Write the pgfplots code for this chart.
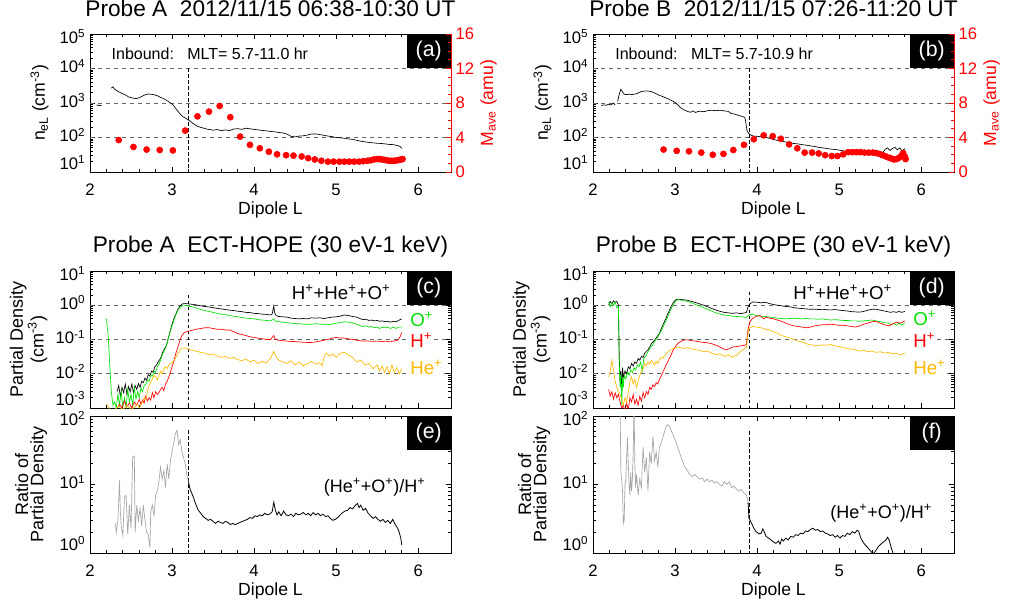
\documentclass[border=0pt]{standalone}
\usepackage{pgfplots}
\pgfplotsset{compat=1.18}
\usepackage{fontspec}
\setmainfont{Liberation Sans}
\definecolor{grn}{RGB}{0,225,0}
\definecolor{org}{RGB}{255,185,0}
\definecolor{gry}{RGB}{165,165,165}
\newcommand{\loglab}[3]{\pgfmathtruncatemacro{\ex}{round(#1/ln(10))}%
  \ifnum\ex=#2\relax\raisebox{7pt}[\height][\depth]{10\textsuperscript{\ex}}%
  \else\ifnum\ex=#3\relax\raisebox{-2pt}[\height][\depth]{10\textsuperscript{\ex}}%
  \else\raisebox{1.8pt}[\height][\depth]{10\textsuperscript{\ex}}\fi\fi}
\pgfplotsset{
 /pgfplots/mybase/.style={
   scale only axis, width=270.75pt, height=102.75pt,
   xmin=2, xmax=6.4, xtick={2,3,4,5,6}, minor x tick num=4,
   tick align=inside, major tick length=4pt, minor tick length=2.2pt,
   axis line style={line width=0.7pt},
   tick style={line width=0.6pt, black},
   tick label style={font=\fontsize{12.5}{14}\selectfont},
   label style={font=\fontsize{13.2}{15}\selectfont},
   title style={at={(0.5,1)}, anchor=base, font=\fontsize{17}{20}\selectfont},
   /pgf/number format/assume math mode=true,
 },
 /pgfplots/myxlab/.style={xlabel={Dipole L}, xlabel style={at={(axis description cs:0.5,0)}, anchor=base, yshift=-32pt}, xticklabel style={anchor=base, yshift=-17.5pt}},
 /pgfplots/mynox/.style={xticklabels={}},
 /pgfplots/myred/.style={mybase, ymin=0, ymax=16, ytick={0,4,8,12,16}, minor y tick num=3,
   axis y line*=right, axis x line=none, axis line style={red}, tick style={red},
   yticklabel style={red}, ylabel={M\textsubscript{ave} (amu)},
   ylabel style={red, at={(axis description cs:1.117,0.5)}, anchor=base}},
}
\tikzset{
 hgrid/.style={black!60, line width=0.6pt, dash pattern=on 3pt off 3pt},
 vline/.style={black, line width=0.5pt, dash pattern=on 2.5pt off 2pt},
 lab/.style={fill=black, text=white, anchor=north east, minimum width=33pt, minimum height=25.5pt, inner sep=0pt, font=\fontsize{16}{18}\selectfont},
 ion/.style={anchor=west, fill=white, inner sep=1pt, font=\fontsize{14}{16}\selectfont},
}
\begin{document}
\begin{tikzpicture}
\path[use as bounding box] (0,0) rectangle (757.5pt,450pt);

%================ (a) ================
\begin{axis}[mybase, ymode=log, yticklabel={\loglab{\tick}{1}{5}}, at={(67.5pt,321pt)}, height=103.5pt, ymin=10, ymax=1e5, ytickten={1,2,3,4,5}, ytick pos=left, myxlab,
  ylabel={n\textsubscript{eL} (cm\textsuperscript{-3})}, ylabel style={at={(axis description cs:-0.125,0.5)}, anchor=base},
  title={Probe A\ \ 2012/11/15 06:38-10:30 UT}, title style={yshift=7pt}]
\draw[hgrid] (axis cs:2,100) -- (axis cs:6.4,100);
\draw[hgrid] (axis cs:2,1000) -- (axis cs:6.4,1000);
\draw[hgrid] (axis cs:2,10000) -- (axis cs:6.4,10000);
\draw[vline] (axis cs:3.2,10000) -- (axis cs:3.2,10);
\addplot[black, line width=0.5pt] coordinates {(2.08,850)(2.10,870)(2.12,840)(2.14,860)};
\addplot[black, line width=0.5pt] coordinates {
(2.26,2700)(2.28,2950)(2.30,2500)(2.32,2350)(2.35,2100)(2.38,1950)(2.41,1800)(2.44,1680)(2.47,1500)(2.50,1430)
(2.53,1380)(2.56,1340)(2.59,1400)(2.62,1500)(2.65,1640)(2.68,1760)(2.71,1830)(2.74,1790)(2.77,1760)(2.80,1680)
(2.83,1590)(2.86,1450)(2.89,1360)(2.92,1250)(2.95,1120)(2.98,1000)(3.01,900)(3.04,720)(3.07,580)(3.10,480)
(3.13,400)(3.16,370)(3.19,330)(3.22,300)(3.25,260)(3.28,235)(3.31,210)(3.34,200)(3.38,188)(3.42,176)
(3.46,170)(3.50,163)(3.55,170)(3.60,158)(3.65,166)(3.70,158)(3.75,176)(3.80,180)(3.85,172)(3.90,186)
(3.95,178)(4.00,172)(4.05,166)(4.10,160)(4.15,156)(4.20,150)(4.25,146)(4.30,140)(4.35,136)(4.40,126)
(4.45,108)(4.50,104)(4.55,110)(4.60,112)(4.65,118)(4.70,126)(4.75,127)(4.80,122)(4.85,116)(4.90,110)
(4.95,106)(5.00,100)(5.05,98)(5.10,95)(5.15,91)(5.20,88)(5.25,83)(5.30,78)(5.35,75)(5.40,72)
(5.45,70)(5.50,68)(5.55,67)(5.60,65)(5.65,63)(5.70,62)(5.75,58)(5.78,55)(5.80,48)};
\node[anchor=west, font=\fontsize{12}{14}\selectfont] at (axis description cs:0.047,0.855) {Inbound:\ \ \ MLT= 5.7-11.0 hr};
\node[lab] at (rel axis cs:1,1) {(a)};
\end{axis}
\begin{axis}[myred, at={(67.5pt,321pt)}, height=103.5pt]
\addplot[only marks, mark=*, mark size=2.3pt, red] coordinates {
(2.35,3.7)(2.53,2.9)(2.69,2.6)(2.85,2.55)(3.01,2.5)(3.16,4.8)(3.31,6.45)(3.45,7.0)(3.58,7.65)(3.71,6.35)
(3.83,4.1)(3.95,3.15)(4.07,2.75)(4.18,2.35)(4.28,2.05)(4.39,1.95)(4.48,1.9)(4.58,1.8)(4.66,1.6)(4.74,1.45)
(4.82,1.3)(4.90,1.2)(4.97,1.2)(5.04,1.2)(5.10,1.2)(5.16,1.2)(5.22,1.2)(5.28,1.2)(5.33,1.25)(5.38,1.3)
(5.42,1.35)(5.46,1.45)(5.50,1.5)(5.53,1.5)(5.56,1.45)(5.59,1.4)(5.62,1.35)(5.65,1.3)(5.68,1.3)(5.71,1.3)
(5.74,1.35)(5.77,1.4)(5.79,1.45)(5.81,1.5)};
\end{axis}

%================ (b) ================
\begin{axis}[mybase, ymode=log, yticklabel={\loglab{\tick}{1}{5}}, at={(444.75pt,321pt)}, height=103.5pt, ymin=10, ymax=1e5, ytickten={1,2,3,4,5}, ytick pos=left, myxlab,
  ylabel={n\textsubscript{eL} (cm\textsuperscript{-3})}, ylabel style={at={(axis description cs:-0.125,0.5)}, anchor=base},
  title={Probe B\ \ 2012/11/15 07:26-11:20 UT}, title style={yshift=7pt}]
\draw[hgrid] (axis cs:2,100) -- (axis cs:6.4,100);
\draw[hgrid] (axis cs:2,1000) -- (axis cs:6.4,1000);
\draw[hgrid] (axis cs:2,10000) -- (axis cs:6.4,10000);
\draw[vline] (axis cs:3.9,10000) -- (axis cs:3.9,10);
\addplot[black, line width=0.5pt] coordinates {(2.10,850)(2.13,880)(2.16,860)(2.19,920)(2.22,880)(2.25,1000)(2.27,870)};
\addplot[black, line width=0.5pt] coordinates {
(2.30,1100)(2.32,1800)(2.34,2500)(2.36,2100)(2.38,1800)(2.41,1750)(2.44,1800)(2.47,1740)(2.50,1800)(2.53,1850)
(2.56,2000)(2.59,2150)(2.62,2200)(2.65,2250)(2.68,2200)(2.71,2150)(2.74,2000)(2.77,1850)(2.80,1700)(2.83,1600)
(2.86,1500)(2.89,1400)(2.92,1300)(2.95,1200)(2.98,1100)(3.01,1000)(3.04,850)(3.07,720)(3.10,650)(3.13,600)
(3.16,560)(3.19,540)(3.22,590)(3.25,530)(3.28,565)(3.31,580)(3.35,560)(3.40,600)(3.45,615)(3.50,600)
(3.55,620)(3.60,590)(3.65,570)(3.68,500)(3.72,480)(3.76,450)(3.80,420)(3.83,400)(3.85,380)(3.86,300)
(3.87,200)(3.88,150)(3.90,130)(3.93,115)(3.96,110)(4.00,108)(4.05,105)(4.10,102)(4.15,95)(4.20,88)
(4.25,82)(4.30,78)(4.35,74)(4.40,70)(4.45,67)(4.50,65)(4.55,62)(4.60,60)(4.65,57)(4.70,55)
(4.75,52)(4.80,50)(4.85,48)(4.90,46)(4.95,45)(5.00,43)(5.05,41)(5.10,40)(5.15,38)(5.20,37)
(5.25,35)(5.30,34)(5.35,33)(5.40,32)(5.45,31)(5.50,31)(5.53,36)(5.56,45)(5.59,50)(5.62,42)
(5.65,48)(5.68,52)(5.71,44)(5.74,50)(5.77,40)(5.80,48)};
\node[anchor=west, font=\fontsize{12}{14}\selectfont] at (axis description cs:0.049,0.855) {Inbound:\ \ \ MLT= 5.7-10.9 hr};
\node[lab] at (rel axis cs:1,1) {(b)};
\end{axis}
\begin{axis}[myred, at={(444.75pt,321pt)}, height=103.5pt]
\addplot[only marks, mark=*, mark size=2.3pt, red] coordinates {
(2.86,2.6)(3.02,2.45)(3.17,2.4)(3.32,2.25)(3.46,2.0)(3.59,2.1)(3.71,2.55)(3.84,3.15)(3.96,3.8)(4.08,4.25)
(4.19,4.15)(4.29,3.85)(4.39,3.2)(4.49,2.75)(4.58,2.25)(4.67,2.25)(4.75,2.15)(4.83,1.95)(4.91,1.85)(4.98,1.85)
(5.05,2.05)(5.11,2.3)(5.16,2.3)(5.21,2.3)(5.26,2.3)(5.31,2.25)(5.36,2.25)(5.41,2.25)(5.45,2.2)(5.49,2.1)
(5.53,1.95)(5.57,1.8)(5.61,1.65)(5.64,1.55)(5.67,1.45)(5.70,1.5)(5.73,1.65)(5.76,1.9)(5.78,2.2)(5.80,1.8)(5.81,1.5)};
\end{axis}

%================ (c) ================
\begin{axis}[mybase, ymode=log, yticklabel={\loglab{\tick}{-3}{1}}, at={(67.5pt,144pt)}, ymin=1e-3, ymax=10, ytickten={-3,-2,-1,0,1}, ytick pos=both, mynox,
  ylabel={Partial Density\\(cm\textsuperscript{-3})}, ylabel style={align=center, at={(axis description cs:-0.17,0.5)}, anchor=center, font=\fontsize{13.5}{11.5}\selectfont},
  title={Probe A\ \ ECT-HOPE (30 eV-1 keV)}, title style={yshift=8pt}]
\draw[hgrid] (axis cs:2,1) -- (axis cs:6.4,1);
\draw[hgrid] (axis cs:2,0.1) -- (axis cs:6.4,0.1);
\draw[hgrid] (axis cs:2,0.01) -- (axis cs:6.4,0.01);
\draw[vline] (axis cs:3.2,2) -- (axis cs:3.2,0.001);
\addplot[black, line width=0.5pt] coordinates {
(2.33,0.003)(2.35,0.0045)(2.37,0.0022)(2.39,0.004)(2.41,0.0028)(2.43,0.005)(2.45,0.0025)(2.47,0.0042)(2.49,0.003)(2.51,0.005)
(2.53,0.0028)(2.55,0.0045)(2.57,0.0035)(2.59,0.0052)(2.61,0.004)(2.63,0.006)(2.65,0.0055)(2.67,0.0075)(2.69,0.0065)(2.71,0.0095)
(2.73,0.0085)(2.75,0.012)(2.77,0.011)(2.79,0.016)(2.81,0.018)(2.83,0.022)(2.85,0.026)(2.87,0.032)(2.89,0.045)(2.91,0.055)
(2.93,0.065)(2.95,0.10)(2.97,0.15)(2.99,0.23)(3.01,0.33)(3.03,0.45)(3.05,0.58)(3.07,0.75)(3.09,0.90)(3.11,1.02)
(3.13,1.10)(3.16,1.12)(3.20,1.10)(3.25,1.06)(3.30,1.02)(3.35,0.96)(3.40,0.92)(3.45,0.89)(3.50,0.85)(3.55,0.81)
(3.60,0.78)(3.65,0.75)(3.70,0.72)(3.75,0.70)(3.80,0.67)(3.85,0.65)(3.90,0.62)(3.95,0.61)(4.00,0.58)(4.05,0.57)
(4.10,0.55)(4.15,0.54)(4.20,0.52)(4.22,0.55)(4.24,0.95)(4.25,0.60)(4.27,0.50)(4.30,0.47)(4.35,0.46)(4.40,0.45)
(4.45,0.42)(4.50,0.41)(4.55,0.40)(4.60,0.41)(4.65,0.40)(4.70,0.43)(4.75,0.42)(4.80,0.43)(4.85,0.41)(4.90,0.43)
(4.95,0.45)(5.00,0.46)(5.05,0.48)(5.10,0.52)(5.15,0.50)(5.20,0.47)(5.25,0.45)(5.30,0.40)(5.33,0.38)(5.36,0.39)
(5.40,0.36)(5.43,0.37)(5.46,0.35)(5.50,0.36)(5.53,0.34)(5.56,0.35)(5.60,0.33)(5.63,0.34)(5.66,0.32)(5.70,0.34)
(5.73,0.33)(5.76,0.36)(5.80,0.40)};
\addplot[grn, line width=0.5pt] coordinates {
(2.20,0.40)(2.22,0.15)(2.24,0.02)(2.26,0.003)(2.28,0.0012)(2.30,0.0015)(2.32,0.001)(2.34,0.0025)(2.36,0.0012)(2.38,0.003)
(2.40,0.0011)(2.42,0.002)(2.44,0.001)(2.46,0.0035)(2.48,0.0015)(2.50,0.0025)(2.52,0.0012)(2.54,0.004)(2.56,0.0018)(2.58,0.003)
(2.60,0.002)(2.62,0.0038)(2.64,0.003)(2.66,0.0045)(2.68,0.005)(2.70,0.0065)(2.72,0.006)(2.74,0.009)(2.76,0.0085)(2.78,0.012)
(2.80,0.011)(2.82,0.016)(2.84,0.019)(2.86,0.025)(2.88,0.035)(2.90,0.045)(2.92,0.055)(2.94,0.08)(2.96,0.12)(2.98,0.18)
(3.00,0.25)(3.02,0.35)(3.04,0.48)(3.06,0.62)(3.08,0.78)(3.10,0.88)(3.13,0.95)(3.16,0.98)(3.20,0.95)(3.25,0.90)
(3.30,0.82)(3.35,0.75)(3.40,0.70)(3.45,0.66)(3.50,0.62)(3.55,0.58)(3.60,0.55)(3.65,0.53)(3.70,0.50)(3.75,0.48)
(3.80,0.46)(3.85,0.44)(3.90,0.42)(3.95,0.41)(4.00,0.40)(4.05,0.38)(4.10,0.37)(4.15,0.36)(4.20,0.35)(4.24,0.40)
(4.26,0.34)(4.30,0.33)(4.35,0.32)(4.40,0.31)(4.45,0.30)(4.50,0.29)(4.55,0.29)(4.60,0.28)(4.65,0.28)(4.70,0.28)
(4.75,0.29)(4.80,0.28)(4.85,0.28)(4.90,0.27)(4.95,0.28)(5.00,0.30)(5.05,0.31)(5.10,0.33)(5.15,0.32)(5.20,0.30)
(5.25,0.28)(5.30,0.25)(5.33,0.24)(5.36,0.25)(5.40,0.23)(5.43,0.24)(5.46,0.22)(5.50,0.23)(5.53,0.21)(5.56,0.23)
(5.60,0.22)(5.63,0.23)(5.66,0.21)(5.70,0.23)(5.73,0.21)(5.76,0.23)(5.80,0.23)};
\addplot[red, line width=0.5pt] coordinates {
(2.33,0.001)(2.36,0.0013)(2.39,0.001)(2.42,0.0016)(2.45,0.0011)(2.48,0.0014)(2.51,0.001)(2.54,0.0015)(2.57,0.0012)(2.60,0.0018)
(2.62,0.0013)(2.64,0.0017)(2.66,0.0014)(2.68,0.0022)(2.70,0.0016)(2.72,0.002)(2.74,0.0017)(2.76,0.0028)(2.78,0.002)(2.80,0.003)
(2.82,0.0025)(2.84,0.0028)(2.86,0.0035)(2.88,0.004)(2.90,0.0032)(2.92,0.005)(2.94,0.006)(2.96,0.008)(2.98,0.011)(3.00,0.016)
(3.02,0.022)(3.04,0.035)(3.06,0.05)(3.08,0.07)(3.10,0.10)(3.12,0.13)(3.15,0.16)(3.18,0.17)(3.22,0.18)(3.26,0.19)
(3.30,0.20)(3.35,0.21)(3.40,0.22)(3.45,0.22)(3.50,0.21)(3.55,0.20)(3.60,0.20)(3.65,0.19)(3.70,0.19)(3.75,0.17)
(3.80,0.15)(3.85,0.14)(3.90,0.13)(3.95,0.12)(4.00,0.115)(4.05,0.11)(4.10,0.105)(4.15,0.10)(4.20,0.10)(4.24,0.13)
(4.26,0.10)(4.30,0.095)(4.35,0.092)(4.40,0.09)(4.45,0.088)(4.50,0.087)(4.55,0.085)(4.60,0.083)(4.65,0.082)(4.70,0.082)
(4.75,0.085)(4.80,0.09)(4.85,0.095)(4.90,0.10)(4.95,0.11)(5.00,0.115)(5.05,0.11)(5.10,0.11)(5.15,0.105)(5.20,0.10)
(5.25,0.095)(5.30,0.092)(5.35,0.09)(5.40,0.09)(5.45,0.088)(5.50,0.09)(5.55,0.086)(5.60,0.09)(5.65,0.085)(5.70,0.09)
(5.75,0.095)(5.78,0.12)(5.80,0.16)};
\addplot[org, line width=0.5pt] coordinates {
(2.20,0.0013)(2.23,0.001)(2.26,0.0008)(2.30,0.0009)(2.35,0.0011)(2.40,0.0009)(2.45,0.0012)(2.50,0.0009)(2.55,0.0011)(2.58,0.0013)
(2.60,0.001)(2.62,0.0012)(2.64,0.0015)(2.66,0.002)(2.68,0.0018)(2.70,0.003)(2.72,0.0045)(2.74,0.0055)(2.76,0.007)(2.78,0.009)
(2.80,0.008)(2.82,0.0065)(2.84,0.009)(2.86,0.012)(2.88,0.010)(2.90,0.014)(2.92,0.016)(2.94,0.014)(2.96,0.018)(2.98,0.020)
(3.00,0.021)(3.02,0.024)(3.04,0.028)(3.06,0.035)(3.08,0.042)(3.10,0.050)(3.12,0.055)(3.15,0.057)(3.18,0.055)(3.22,0.050)
(3.26,0.048)(3.30,0.045)(3.35,0.042)(3.40,0.040)(3.45,0.036)(3.50,0.038)(3.55,0.033)(3.60,0.030)(3.65,0.032)(3.70,0.028)
(3.75,0.030)(3.80,0.026)(3.85,0.024)(3.90,0.027)(3.95,0.022)(4.00,0.025)(4.05,0.020)(4.10,0.023)(4.15,0.021)(4.20,0.028)
(4.24,0.045)(4.27,0.030)(4.30,0.025)(4.35,0.022)(4.40,0.020)(4.45,0.024)(4.50,0.018)(4.55,0.022)(4.60,0.017)(4.65,0.020)
(4.70,0.023)(4.75,0.019)(4.80,0.021)(4.83,0.017)(4.85,0.030)(4.88,0.040)(4.92,0.033)(4.96,0.038)(5.00,0.030)(5.05,0.040)
(5.10,0.042)(5.15,0.035)(5.20,0.030)(5.25,0.022)(5.30,0.025)(5.35,0.018)(5.40,0.020)(5.45,0.014)(5.50,0.018)(5.53,0.012)
(5.56,0.017)(5.59,0.011)(5.62,0.016)(5.65,0.010)(5.68,0.018)(5.71,0.011)(5.74,0.015)(5.77,0.010)(5.80,0.014)};
\node[anchor=east, font=\fontsize{14}{16}\selectfont] at (axis description cs:0.845,0.847) {H\textsuperscript{+}+He\textsuperscript{+}+O\textsuperscript{+}};
\node[ion, text=grn] at (axis description cs:0.883,0.65) {O\textsuperscript{+}};
\node[ion, text=red] at (axis description cs:0.883,0.496) {H\textsuperscript{+}};
\node[ion, text=org] at (axis description cs:0.883,0.30) {He\textsuperscript{+}};
\node[lab] at (rel axis cs:1,1) {(c)};
\end{axis}

%================ (d) ================
\begin{axis}[mybase, ymode=log, yticklabel={\loglab{\tick}{-3}{1}}, at={(444.75pt,144pt)}, ymin=1e-3, ymax=10, ytickten={-3,-2,-1,0,1}, ytick pos=both, mynox,
  ylabel={Partial Density\\(cm\textsuperscript{-3})}, ylabel style={align=center, at={(axis description cs:-0.17,0.5)}, anchor=center, font=\fontsize{13.5}{11.5}\selectfont},
  title={Probe B\ \ ECT-HOPE (30 eV-1 keV)}, title style={yshift=8pt}]
\draw[hgrid] (axis cs:2,1) -- (axis cs:6.4,1);
\draw[hgrid] (axis cs:2,0.1) -- (axis cs:6.4,0.1);
\draw[hgrid] (axis cs:2,0.01) -- (axis cs:6.4,0.01);
\draw[vline] (axis cs:3.9,2.5) -- (axis cs:3.9,0.001);
\addplot[black, line width=0.5pt] coordinates {
(2.19,1.0)(2.21,1.3)(2.23,1.1)(2.25,1.35)(2.27,1.2)(2.29,1.3)(2.31,1.0)(2.32,0.03)(2.33,0.006)(2.34,0.012)
(2.35,0.003)(2.36,0.015)(2.37,0.008)(2.39,0.012)(2.41,0.010)(2.43,0.016)(2.45,0.014)(2.47,0.020)(2.49,0.017)(2.51,0.022)
(2.53,0.020)(2.55,0.028)(2.57,0.025)(2.59,0.032)(2.61,0.030)(2.63,0.040)(2.65,0.045)(2.67,0.050)(2.69,0.060)(2.71,0.075)
(2.73,0.085)(2.75,0.095)(2.77,0.11)(2.79,0.13)(2.81,0.15)(2.83,0.20)(2.85,0.26)(2.87,0.33)(2.89,0.42)(2.91,0.55)
(2.93,0.70)(2.95,0.90)(2.97,1.10)(2.99,1.30)(3.01,1.45)(3.03,1.50)(3.06,1.48)(3.10,1.45)(3.15,1.40)(3.20,1.30)
(3.25,1.20)(3.30,1.10)(3.35,1.00)(3.40,0.90)(3.45,0.80)(3.50,0.72)(3.55,0.66)(3.60,0.62)(3.65,0.60)(3.70,0.58)
(3.75,0.60)(3.80,0.57)(3.85,0.60)(3.87,0.62)(3.89,0.90)(3.91,1.10)(3.95,1.25)(4.00,1.22)(4.05,1.18)(4.10,1.22)
(4.15,1.12)(4.20,1.05)(4.25,1.00)(4.30,0.96)(4.35,0.92)(4.40,0.90)(4.45,0.85)(4.50,0.82)(4.55,0.80)(4.60,0.78)
(4.65,0.76)(4.70,0.77)(4.75,0.75)(4.80,0.76)(4.85,0.74)(4.90,0.73)(4.95,0.75)(5.00,0.72)(5.05,0.70)(5.10,0.68)
(5.15,0.65)(5.20,0.64)(5.25,0.63)(5.30,0.66)(5.35,0.72)(5.40,0.76)(5.45,0.77)(5.50,0.72)(5.55,0.68)(5.60,0.64)
(5.63,0.62)(5.66,0.65)(5.70,0.62)(5.73,0.66)(5.76,0.62)(5.80,0.66)};
\addplot[grn, line width=0.5pt] coordinates {
(2.19,1.3)(2.21,0.9)(2.23,1.2)(2.25,1.0)(2.27,1.25)(2.29,0.85)(2.31,0.9)(2.32,0.02)(2.33,0.004)(2.34,0.010)
(2.35,0.0012)(2.36,0.008)(2.37,0.004)(2.38,0.009)(2.40,0.007)(2.42,0.011)(2.44,0.009)(2.46,0.013)(2.48,0.011)(2.50,0.015)
(2.52,0.013)(2.54,0.018)(2.56,0.016)(2.58,0.022)(2.60,0.012)(2.62,0.028)(2.64,0.032)(2.66,0.040)(2.68,0.048)(2.70,0.060)
(2.72,0.065)(2.74,0.080)(2.76,0.095)(2.78,0.11)(2.80,0.13)(2.82,0.16)(2.84,0.20)(2.86,0.25)(2.88,0.32)(2.90,0.40)
(2.92,0.52)(2.94,0.68)(2.96,0.85)(2.98,1.05)(3.00,1.25)(3.02,1.40)(3.04,1.45)(3.07,1.42)(3.10,1.38)(3.15,1.30)
(3.20,1.18)(3.25,1.05)(3.30,0.95)(3.35,0.85)(3.40,0.75)(3.45,0.67)(3.50,0.60)(3.55,0.55)(3.60,0.52)(3.65,0.50)
(3.70,0.48)(3.75,0.47)(3.80,0.46)(3.85,0.45)(3.87,0.43)(3.89,0.50)(3.92,0.55)(3.95,0.53)(4.00,0.50)(4.05,0.48)
(4.10,0.47)(4.15,0.45)(4.20,0.44)(4.25,0.42)(4.30,0.41)(4.35,0.40)(4.40,0.41)(4.45,0.42)(4.50,0.41)(4.55,0.40)
(4.60,0.41)(4.65,0.40)(4.70,0.40)(4.75,0.39)(4.80,0.40)(4.85,0.38)(4.90,0.37)(4.95,0.38)(5.00,0.37)(5.05,0.36)
(5.10,0.36)(5.15,0.35)(5.20,0.35)(5.25,0.34)(5.30,0.35)(5.35,0.36)(5.40,0.37)(5.45,0.35)(5.50,0.33)(5.55,0.31)
(5.60,0.30)(5.63,0.27)(5.66,0.30)(5.70,0.26)(5.73,0.30)(5.76,0.26)(5.80,0.30)};
\addplot[red, line width=0.5pt] coordinates {
(2.19,0.0035)(2.21,0.0022)(2.23,0.003)(2.25,0.0018)(2.27,0.0028)(2.29,0.002)(2.31,0.0025)(2.33,0.0015)(2.35,0.001)(2.37,0.0012)
(2.39,0.0008)(2.41,0.0014)(2.43,0.0009)(2.45,0.002)(2.47,0.0015)(2.49,0.0025)(2.51,0.0013)(2.53,0.0018)(2.55,0.0012)(2.57,0.0022)
(2.59,0.0016)(2.61,0.0028)(2.63,0.002)(2.65,0.003)(2.67,0.0025)(2.69,0.004)(2.71,0.0035)(2.73,0.0048)(2.75,0.0042)(2.77,0.0055)
(2.79,0.005)(2.81,0.007)(2.83,0.0085)(2.85,0.011)(2.87,0.014)(2.89,0.018)(2.91,0.022)(2.93,0.028)(2.95,0.035)(2.97,0.045)
(2.99,0.055)(3.01,0.065)(3.03,0.075)(3.06,0.085)(3.10,0.095)(3.15,0.098)(3.20,0.092)(3.25,0.09)(3.30,0.085)(3.35,0.082)
(3.40,0.08)(3.45,0.075)(3.50,0.068)(3.55,0.06)(3.60,0.052)(3.63,0.05)(3.67,0.055)(3.70,0.06)(3.75,0.062)(3.80,0.065)
(3.85,0.068)(3.87,0.072)(3.89,0.20)(3.91,0.32)(3.94,0.40)(3.97,0.45)(4.00,0.48)(4.03,0.50)(4.06,0.45)(4.08,0.40)
(4.11,0.45)(4.15,0.42)(4.20,0.40)(4.25,0.37)(4.30,0.34)(4.35,0.30)(4.40,0.27)(4.45,0.25)(4.50,0.24)(4.55,0.23)
(4.60,0.22)(4.65,0.23)(4.70,0.25)(4.75,0.26)(4.80,0.27)(4.85,0.27)(4.90,0.28)(4.95,0.27)(5.00,0.26)(5.05,0.26)
(5.10,0.25)(5.15,0.24)(5.20,0.23)(5.25,0.25)(5.30,0.28)(5.35,0.30)(5.40,0.33)(5.45,0.34)(5.50,0.30)(5.55,0.27)
(5.60,0.25)(5.65,0.28)(5.70,0.32)(5.75,0.30)(5.80,0.35)};
\addplot[org, line width=0.5pt] coordinates {
(2.19,0.008)(2.21,0.012)(2.23,0.025)(2.25,0.012)(2.27,0.006)(2.29,0.004)(2.31,0.003)(2.33,0.0025)(2.35,0.0018)(2.37,0.0012)
(2.39,0.002)(2.41,0.0015)(2.43,0.003)(2.45,0.006)(2.47,0.008)(2.49,0.005)(2.51,0.007)(2.53,0.004)(2.55,0.006)(2.57,0.009)
(2.59,0.012)(2.61,0.014)(2.63,0.020)(2.65,0.017)(2.67,0.022)(2.69,0.019)(2.71,0.025)(2.73,0.021)(2.75,0.018)(2.77,0.023)
(2.79,0.020)(2.81,0.026)(2.83,0.030)(2.85,0.028)(2.87,0.033)(2.89,0.038)(2.91,0.042)(2.93,0.048)(2.95,0.050)(2.98,0.055)
(3.01,0.058)(3.04,0.060)(3.07,0.057)(3.10,0.055)(3.15,0.058)(3.20,0.054)(3.25,0.050)(3.30,0.048)(3.35,0.044)(3.40,0.046)
(3.45,0.040)(3.50,0.036)(3.55,0.038)(3.60,0.032)(3.65,0.036)(3.70,0.030)(3.75,0.035)(3.80,0.045)(3.85,0.055)(3.87,0.060)
(3.89,0.15)(3.91,0.22)(3.95,0.24)(4.00,0.23)(4.05,0.22)(4.10,0.20)(4.15,0.19)(4.20,0.17)(4.25,0.15)(4.30,0.13)
(4.35,0.12)(4.40,0.11)(4.45,0.10)(4.50,0.09)(4.55,0.085)(4.60,0.075)(4.65,0.07)(4.70,0.068)(4.75,0.065)(4.80,0.07)
(4.85,0.068)(4.90,0.072)(4.95,0.065)(5.00,0.062)(5.05,0.058)(5.10,0.055)(5.15,0.052)(5.20,0.05)(5.25,0.046)(5.30,0.048)
(5.35,0.044)(5.40,0.046)(5.45,0.042)(5.50,0.044)(5.55,0.04)(5.60,0.042)(5.65,0.038)(5.70,0.04)(5.75,0.035)(5.80,0.04)};
\node[anchor=east, font=\fontsize{14}{16}\selectfont] at (axis description cs:0.841,0.847) {H\textsuperscript{+}+He\textsuperscript{+}+O\textsuperscript{+}};
\node[ion, text=grn] at (axis description cs:0.883,0.657) {O\textsuperscript{+}};
\node[ion, text=red] at (axis description cs:0.883,0.496) {H\textsuperscript{+}};
\node[ion, text=org] at (axis description cs:0.883,0.30) {He\textsuperscript{+}};
\node[lab] at (rel axis cs:1,1) {(d)};
\end{axis}

%================ (e) ================
\begin{axis}[mybase, ymode=log, yticklabel={\loglab{\tick}{0}{2}}, at={(67.5pt,35.25pt)}, ymin=1, ymax=100, ytickten={0,1,2}, ytick pos=both, myxlab,
  ylabel={Ratio of\\Partial Density}, ylabel style={align=center, at={(axis description cs:-0.163,0.5)}, anchor=center, font=\fontsize{13.5}{11.5}\selectfont}]
\draw[vline] (axis cs:3.2,62) -- (axis cs:3.2,1);
\addplot[gry, line width=0.5pt] coordinates {
(2.31,2.7)(2.32,2.0)(2.34,3.0)(2.36,11.5)(2.37,4)(2.38,2.5)(2.40,1.8)(2.42,6.5)(2.44,7)(2.46,1.9)
(2.48,5)(2.50,2.3)(2.52,25)(2.54,26)(2.55,2)(2.57,5)(2.59,3)(2.61,4.5)(2.63,2.5)(2.65,5)
(2.67,3)(2.69,2)(2.71,1.9)(2.73,1.2)(2.74,4)(2.76,5)(2.78,3.5)(2.80,7)(2.82,8)(2.84,11)
(2.86,18)(2.88,12)(2.90,16)(2.92,9)(2.94,20)(2.96,12)(2.98,22)(3.00,30)(3.02,40)(3.04,55)
(3.06,62)(3.08,38)(3.10,45)(3.12,30)(3.14,25)(3.16,20)(3.18,14)(3.20,11)};
\addplot[black, line width=0.6pt] coordinates {
(3.20,11)(3.22,8.5)(3.24,7.5)(3.26,6.5)(3.28,5.5)(3.30,4.8)(3.32,4.2)(3.35,3.8)(3.38,3.4)(3.41,3.2)
(3.44,3.0)(3.47,3.1)(3.50,2.9)(3.53,2.7)(3.56,2.9)(3.59,2.8)(3.62,2.7)(3.65,2.9)(3.68,2.8)(3.71,2.6)
(3.74,2.7)(3.77,2.6)(3.80,2.7)(3.83,2.8)(3.86,2.9)(3.89,3.0)(3.92,3.1)(3.95,3.3)(3.98,3.2)(4.01,3.5)
(4.04,3.4)(4.07,3.6)(4.10,3.5)(4.13,3.8)(4.16,3.6)(4.19,3.7)(4.22,4.0)(4.24,5.5)(4.26,4.2)(4.28,3.6)
(4.30,4.0)(4.33,3.5)(4.36,4.1)(4.39,3.6)(4.42,3.5)(4.45,3.7)(4.48,3.4)(4.51,3.8)(4.54,3.6)(4.57,3.7)
(4.60,3.9)(4.63,3.6)(4.66,3.8)(4.69,3.5)(4.72,3.9)(4.75,3.6)(4.78,3.8)(4.81,3.5)(4.84,3.7)(4.87,3.4)
(4.90,3.5)(4.93,3.2)(4.96,3.0)(4.99,3.1)(5.02,3.3)(5.05,3.6)(5.08,3.9)(5.11,4.1)(5.14,4.2)(5.17,4.6)
(5.20,4.4)(5.23,4.9)(5.26,5.3)(5.28,4.6)(5.30,5.0)(5.33,4.2)(5.36,4.5)(5.39,3.8)(5.42,3.5)(5.45,3.2)
(5.48,3.4)(5.51,3.1)(5.54,2.9)(5.57,3.1)(5.60,2.8)(5.63,3.0)(5.66,2.7)(5.69,3.1)(5.72,2.6)(5.75,2.3)
(5.77,2.0)(5.79,1.6)(5.80,1.3)};
\node[anchor=east, font=\fontsize{13.5}{16}\selectfont] at (axis description cs:0.942,0.48) {(He\textsuperscript{+}+O\textsuperscript{+})/H\textsuperscript{+}};
\node[lab] at (rel axis cs:1,1) {(e)};
\end{axis}

%================ (f) ================
\begin{axis}[mybase, ymode=log, yticklabel={\loglab{\tick}{0}{2}}, at={(444.75pt,35.25pt)}, ymin=1, ymax=100, ytickten={0,1,2}, ytick pos=both, myxlab,
  ylabel={Ratio of\\Partial Density}, ylabel style={align=center, at={(axis description cs:-0.163,0.5)}, anchor=center, font=\fontsize{13.5}{11.5}\selectfont}]
\draw[vline] (axis cs:3.9,60) -- (axis cs:3.9,1);
\addplot[gry, line width=0.5pt] coordinates {
(2.33,150)(2.34,15)(2.35,12)(2.36,8)(2.37,2.7)(2.38,3)(2.39,10)(2.40,12)(2.41,25)(2.42,48)
(2.43,20)(2.44,10)(2.45,7)(2.46,15)(2.47,8)(2.48,12)(2.49,30)(2.50,150)(2.51,20)(2.52,9)
(2.53,14)(2.55,7)(2.57,12)(2.59,9)(2.61,35)(2.63,15)(2.65,25)(2.67,8)(2.69,30)(2.71,20)
(2.73,50)(2.75,22)(2.77,30)(2.79,18)(2.81,35)(2.83,40)(2.85,48)(2.87,58)(2.89,70)(2.91,75)
(2.93,72)(2.95,62)(2.97,55)(3.00,45)(3.03,36)(3.06,28)(3.09,22)(3.12,18)(3.15,16)(3.18,14)
(3.21,13)(3.24,14)(3.27,13)(3.30,12)(3.33,12.5)(3.36,11)(3.39,12)(3.42,11)(3.45,11.5)(3.48,10.5)
(3.51,11)(3.54,10)(3.57,9.5)(3.60,11)(3.63,10)(3.66,11)(3.69,9)(3.72,9.5)(3.75,8.5)(3.78,8)
(3.81,8.5)(3.84,7.5)(3.87,7)(3.89,5.5)};
\addplot[black, line width=0.6pt] coordinates {
(3.89,5.5)(3.90,3.3)(3.92,2.9)(3.94,2.6)(3.96,2.3)(3.98,2.1)(4.00,2.0)(4.03,1.9)(4.05,1.95)(4.07,2.25)
(4.09,2.0)(4.11,1.75)(4.14,1.65)(4.17,1.55)(4.20,1.45)(4.23,1.38)(4.26,1.5)(4.28,1.35)(4.30,1.6)(4.32,1.5)
(4.35,1.65)(4.38,1.55)(4.41,1.75)(4.44,1.7)(4.47,1.85)(4.50,1.8)(4.53,1.95)(4.56,1.9)(4.59,2.1)(4.62,2.05)
(4.65,2.2)(4.68,2.3)(4.71,2.15)(4.74,2.2)(4.77,2.05)(4.80,2.1)(4.83,1.95)(4.86,1.9)(4.89,1.8)(4.92,1.85)
(4.95,1.7)(4.98,1.8)(5.01,1.65)(5.04,1.8)(5.07,1.75)(5.10,1.95)(5.13,1.85)(5.16,2.05)(5.19,1.95)(5.22,2.15)
(5.24,2.05)(5.26,1.7)(5.29,1.45)(5.32,1.3)(5.35,1.2)(5.38,1.08)(5.40,1.02)(5.42,0.98)(5.45,1.1)(5.48,1.25)
(5.51,1.35)(5.54,1.45)(5.57,1.55)(5.59,1.7)(5.61,1.55)(5.63,1.25)(5.65,1.05)(5.67,0.9)(5.70,0.8)(5.72,0.85)
(5.74,0.8)(5.80,0.75)};
\node[anchor=east, font=\fontsize{13.5}{16}\selectfont] at (axis description cs:0.952,0.29) {(He\textsuperscript{+}+O\textsuperscript{+})/H\textsuperscript{+}};
\node[lab] at (rel axis cs:1,1) {(f)};
\end{axis}
\end{tikzpicture}
\end{document}
